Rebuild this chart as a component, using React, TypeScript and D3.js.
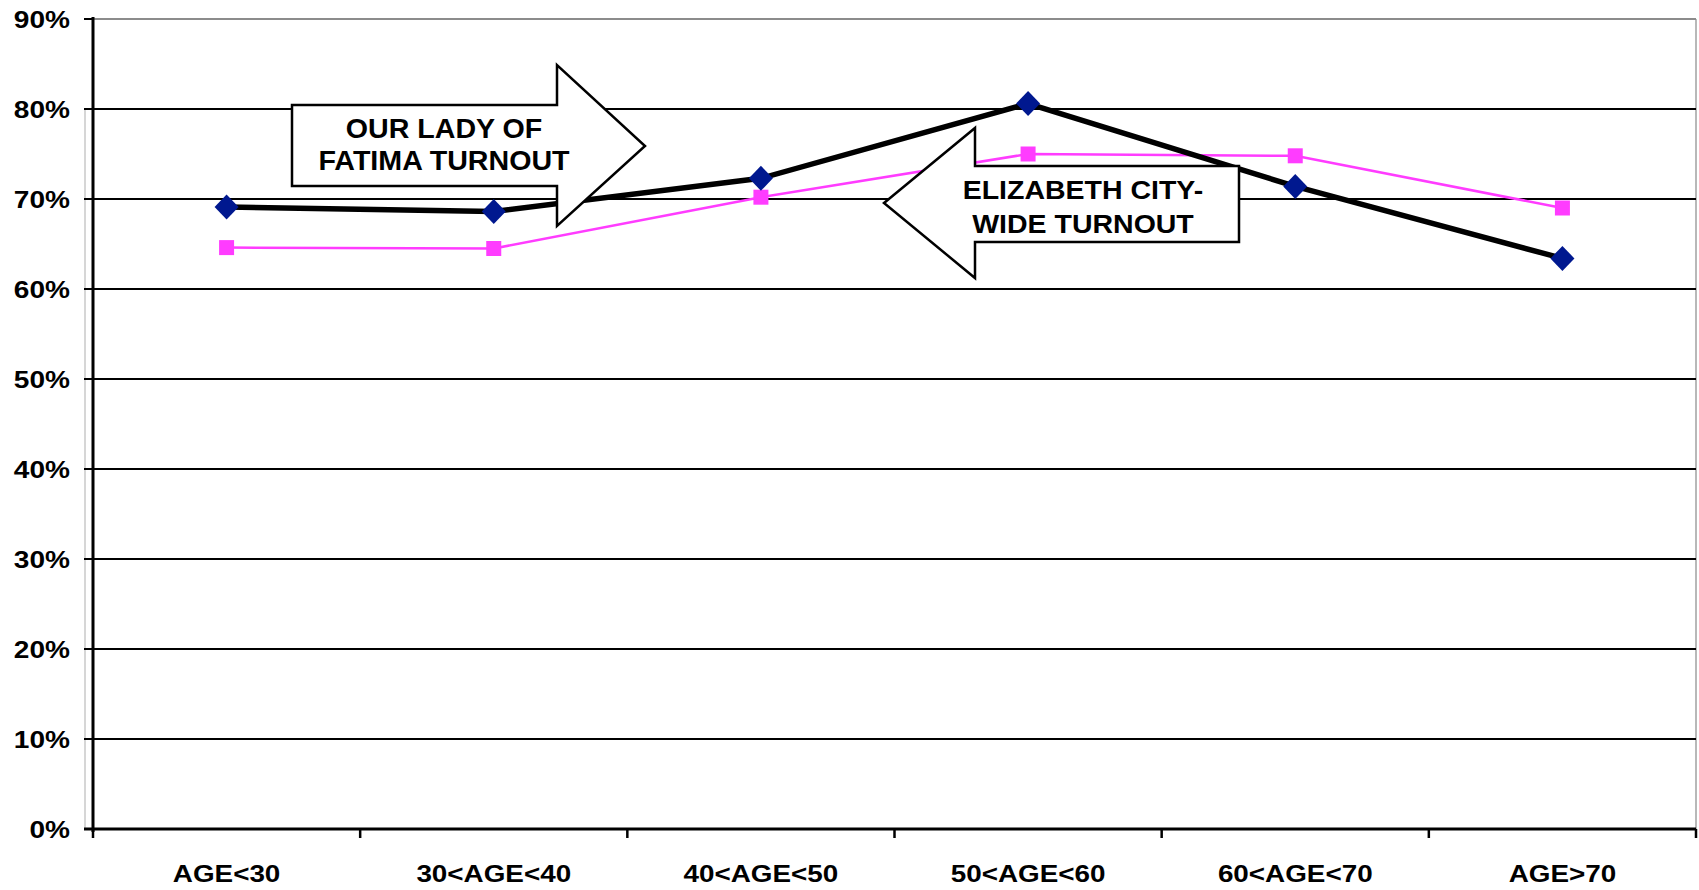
import * as d3 from "d3";
import { useEffect, useRef } from "react";

// categories and values
const categories = ["AGE<30", "30<AGE<40", "40<AGE<50", "50<AGE<60", "60<AGE<70", "AGE>70"];
const fatimaTurnout = [0.691, 0.686, 0.723, 0.806, 0.714, 0.634];
const cityTurnout = [0.646, 0.645, 0.702, 0.750, 0.748, 0.690];
const yTicks = [0, 0.1, 0.2, 0.3, 0.4, 0.5, 0.6, 0.7, 0.8, 0.9];

const W = 1699;
const H = 890;
const FONT = "'Liberation Sans', Arial, sans-serif";

const App = () => {
  const svgRef = useRef<SVGSVGElement>(null);

  useEffect(() => {
    const svg = d3.select(svgRef.current);
    svg.selectAll("*").remove();

    const left = 93;
    const right = 1696;
    const top = 19;
    const bottom = 829;

    // scales
    const x = d3.scaleBand<string>().domain(categories).range([left, right]).padding(0);
    const cx = (c: string) => (x(c) as number) + x.bandwidth() / 2;
    const y = d3.scaleLinear().domain([0, 0.9]).range([bottom, top]);

    svg.append("rect").attr("width", W).attr("height", H).attr("fill", "#fff");

    // faint line left of axis
    svg.append("line")
      .attr("x1", 85).attr("x2", 85)
      .attr("y1", y(0.8)).attr("y2", y(0))
      .attr("stroke", "#c8c8c8").attr("stroke-width", 1.5);

    // right border
    svg.append("line")
      .attr("x1", right).attr("x2", right)
      .attr("y1", y(0.9)).attr("y2", y(0))
      .attr("stroke", "#a0a0a0").attr("stroke-width", 1.5);

    // gridlines
    svg.selectAll(".grid")
      .data(yTicks.filter(t => t > 0))
      .enter()
      .append("line")
      .attr("x1", left).attr("x2", right)
      .attr("y1", d => y(d)).attr("y2", d => y(d))
      .attr("stroke", d => (d === 0.9 ? "#8c8c8c" : "#000"))
      .attr("stroke-width", 2);

    // y ticks
    svg.selectAll(".ytick")
      .data(yTicks)
      .enter()
      .append("line")
      .attr("x1", left - 9).attr("x2", left)
      .attr("y1", d => y(d)).attr("y2", d => y(d))
      .attr("stroke", "#000").attr("stroke-width", 2);

    // y labels (stretched bold text)
    svg.selectAll(".ylab")
      .data(yTicks)
      .enter()
      .append("text")
      .attr("transform", d => `translate(70,${y(d) + 9}) scale(1.17,1)`)
      .attr("text-anchor", "end")
      .attr("font-family", FONT)
      .attr("font-weight", "bold")
      .attr("font-size", 24)
      .attr("fill", "#000")
      .text(d => `${Math.round(d * 100)}%`);

    // axes
    svg.append("line")
      .attr("x1", left).attr("x2", left)
      .attr("y1", y(0.9) - 2).attr("y2", bottom + 3)
      .attr("stroke", "#000").attr("stroke-width", 3);
    svg.append("line")
      .attr("x1", left - 9).attr("x2", right)
      .attr("y1", bottom).attr("y2", bottom)
      .attr("stroke", "#000").attr("stroke-width", 3);

    // x ticks at category boundaries
    const bounds = categories.map(c => x(c) as number).concat([right]);
    svg.selectAll(".xtick")
      .data(bounds)
      .enter()
      .append("line")
      .attr("x1", d => d).attr("x2", d => d)
      .attr("y1", bottom).attr("y2", bottom + 9)
      .attr("stroke", "#000").attr("stroke-width", 2.5);

    // x labels
    svg.selectAll(".xlab")
      .data(categories)
      .enter()
      .append("text")
      .attr("transform", d => `translate(${cx(d)},882) scale(1.16,1)`)
      .attr("text-anchor", "middle")
      .attr("font-family", FONT)
      .attr("font-weight", "bold")
      .attr("font-size", 24)
      .attr("fill", "#000")
      .text(d => d);

    const line = d3.line<number>()
      .x((_, i) => cx(categories[i]))
      .y(d => y(d));

    // city-wide series (magenta, squares)
    svg.append("path")
      .attr("d", line(cityTurnout))
      .attr("fill", "none")
      .attr("stroke", "#ff3cff")
      .attr("stroke-width", 2.5);
    svg.selectAll(".sq")
      .data(cityTurnout)
      .enter()
      .append("rect")
      .attr("x", (_, i) => cx(categories[i]) - 7.5)
      .attr("y", d => y(d) - 7.5)
      .attr("width", 15).attr("height", 15)
      .attr("fill", "#ff3cff");

    // parish series (thick black, navy diamonds)
    svg.append("path")
      .attr("d", line(fatimaTurnout))
      .attr("fill", "none")
      .attr("stroke", "#000")
      .attr("stroke-width", 5.5)
      .attr("stroke-linejoin", "round");
    svg.selectAll(".dia")
      .data(fatimaTurnout)
      .enter()
      .append("path")
      .attr("transform", (d, i) => `translate(${cx(categories[i])},${y(d)})`)
      .attr("d", "M0,-12.5L12,0L0,12.5L-12,0Z")
      .attr("fill", "#00188f");

    // annotation arrows
    const arrowR: [number, number][] = [
      [292, 105], [557, 105], [557, 65], [645, 146], [557, 226], [557, 186], [292, 186],
    ];
    const arrowL: [number, number][] = [
      [884, 203], [975, 128], [975, 166], [1239, 166], [1239, 242], [975, 242], [975, 278],
    ];
    [arrowR, arrowL].forEach(pts => {
      svg.append("polygon")
        .attr("points", pts.map(p => p.join(",")).join(" "))
        .attr("fill", "#fff")
        .attr("stroke", "#000")
        .attr("stroke-width", 2.5)
        .attr("stroke-linejoin", "miter");
    });

    const addLabel = (lines: string[], xc: number, ys: number[], size: number, sx: number) => {
      lines.forEach((t, i) => {
        svg.append("text")
          .attr("transform", `translate(${xc},${ys[i]}) scale(${sx},1)`)
          .attr("text-anchor", "middle")
          .attr("font-family", FONT)
          .attr("font-weight", "bold")
          .attr("font-size", size)
          .attr("fill", "#000")
          .text(t);
      });
    };
    addLabel(["OUR LADY OF", "FATIMA TURNOUT"], 444, [138, 170], 27, 1.06);
    addLabel(["ELIZABETH CITY-", "WIDE TURNOUT"], 1083, [199, 233], 25, 1.14);
  }, []);

  return (
    <svg
      ref={svgRef}
      width={W}
      height={H}
      style={{ position: "absolute", left: 0, top: 0, display: "block" }}
    />
  );
};

export default App;
